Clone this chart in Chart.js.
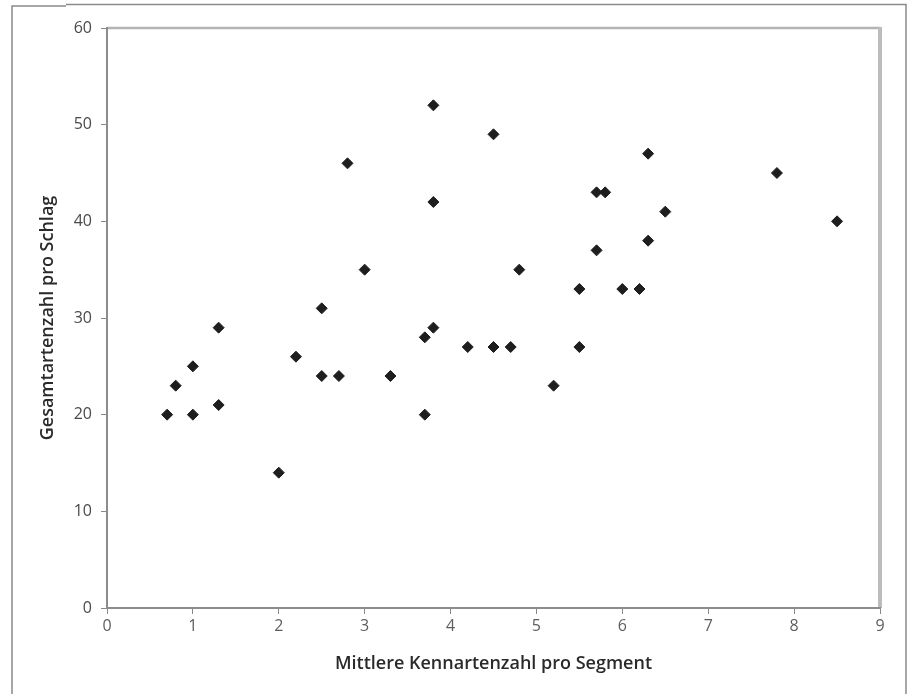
<!DOCTYPE html>
<html>
<head>
<meta charset="utf-8">
<script src="https://cdn.jsdelivr.net/npm/chart.js@4/dist/chart.umd.min.js"></script>
<style>
  html, body { margin: 0; padding: 0; background: #fff; }
  #wrap { width: 913px; height: 694px; }
</style>
</head>
<body>
<div id="wrap"><canvas id="chart" width="913" height="694"></canvas></div>
<script>
// --- data ---
const kennarten = [0.7, 0.8, 1.0, 1.0, 1.3, 1.3, 2.0, 2.2, 2.5, 2.5, 2.7, 2.8, 3.0, 3.3, 3.7, 3.7, 3.8, 3.8, 3.8,
  4.2, 4.5, 4.5, 4.7, 4.8, 5.2, 5.5, 5.5, 5.7, 5.8, 5.7, 6.0, 6.2, 6.3, 6.3, 6.5, 7.8, 8.5];
const gesamtarten = [20, 23, 20, 25, 29, 21, 14, 26, 31, 24, 24, 46, 35, 24, 28, 20, 52, 42, 29,
  27, 49, 27, 27, 35, 23, 33, 27, 43, 43, 37, 33, 33, 47, 38, 41, 45, 40];
const xTitle = 'Mittlere Kennartenzahl pro Segment';
const yTitle = 'Gesamtartenzahl pro Schlag';

const points = kennarten.map((x, i) => ({ x, y: gesamtarten[i] }));

// --- frame around the figure and the grey top/right edge of the plot ---
const framePlugin = {
  id: 'frame',
  beforeDraw(chart) {
    const { ctx, chartArea: a } = chart;
    ctx.save();
    ctx.strokeStyle = '#8a8a8a';
    ctx.lineWidth = 1.5;
    ctx.beginPath();
    ctx.moveTo(12, 700);
    ctx.lineTo(12, 6);
    ctx.lineTo(66, 6);
    ctx.moveTo(66, 4.5);
    ctx.lineTo(906, 4.5);
    ctx.lineTo(906, 700);
    ctx.stroke();

    ctx.strokeStyle = '#b4b4b4';
    ctx.lineWidth = 2.5;
    ctx.beginPath();
    ctx.moveTo(a.left, a.top);
    ctx.lineTo(a.right, a.top);
    ctx.stroke();
    ctx.lineWidth = 4;
    ctx.strokeStyle = '#bcbcbc';
    ctx.beginPath();
    ctx.moveTo(a.right, a.top - 1);
    ctx.lineTo(a.right, a.bottom);
    ctx.stroke();
    ctx.restore();
  }
};

const tickFont = { family: '"Open Sans", "Noto Sans", sans-serif', size: 16 };
const titleFont = { family: '"Open Sans", "Noto Sans", sans-serif', size: 18, weight: '600' };

new Chart(document.getElementById('chart'), {
  type: 'scatter',
  data: {
    datasets: [{
      data: points,
      pointStyle: 'rectRot',
      pointRadius: 5.5,
      pointHoverRadius: 5.5,
      backgroundColor: '#1e1e1e',
      borderColor: '#1e1e1e',
      borderWidth: 1
    }]
  },
  options: {
    responsive: false,
    animation: false,
    layout: { padding: { left: 37, top: 28, right: 33, bottom: 10 } },
    plugins: { legend: { display: false }, tooltip: { enabled: false } },
    scales: {
      x: {
        type: 'linear',
        min: 0, max: 9,
        afterFit(s) { s.height = 76; },
        ticks: { stepSize: 1, color: '#5e5e5e', font: tickFont, padding: 3 },
        grid: { drawOnChartArea: false, drawTicks: true, tickLength: 6, color: '#888' },
        border: { color: '#8c8c8c', width: 2 },
        title: { display: true, text: xTitle, color: '#2a2a2a', font: titleFont, padding: { top: 0, bottom: 9 } }
      },
      y: {
        type: 'linear',
        min: 0, max: 60,
        afterFit(s) { s.width = 70; },
        ticks: { stepSize: 10, color: '#4a4a4a', font: tickFont, padding: 9 },
        grid: { drawOnChartArea: false, drawTicks: true, tickLength: 6, color: '#888' },
        border: { color: '#8c8c8c', width: 2 },
        title: { display: true, text: yTitle, color: '#2a2a2a', font: titleFont, padding: { top: 0, bottom: 0 } }
      }
    }
  },
  plugins: [framePlugin]
});
</script>
</body>
</html>
